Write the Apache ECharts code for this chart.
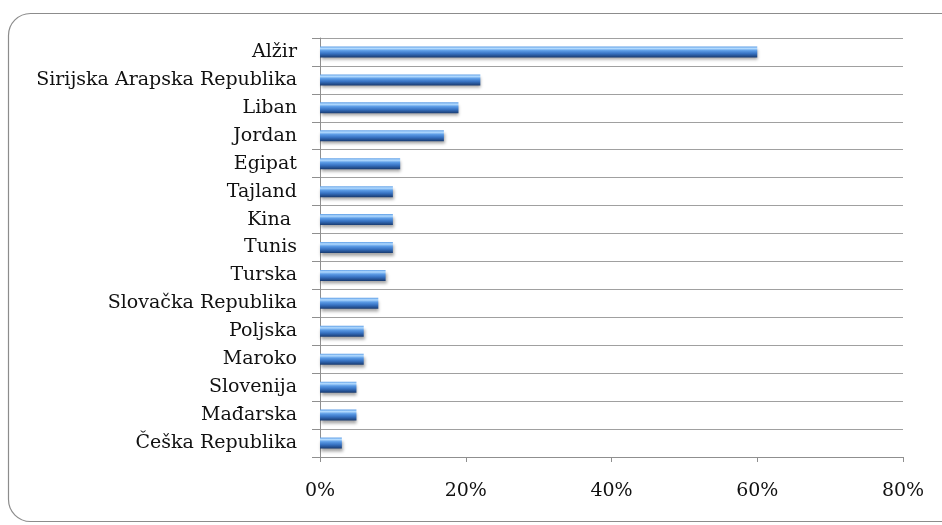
<!DOCTYPE html>
<html>
<head>
<meta charset="utf-8">
<script src="https://cdn.jsdelivr.net/npm/echarts@6/dist/echarts.min.js"></script>
<style>
html,body{margin:0;padding:0;background:#fff;}
#chart{width:942px;height:525px;}
</style>
</head>
<body>
<div id="chart"></div>
<script>
var categories = ["Alžir","Sirijska Arapska Republika","Liban","Jordan","Egipat","Tajland","Kina ","Tunis","Turska","Slovačka Republika","Poljska","Maroko","Slovenija","Mađarska","Češka Republika"];
var values = [60,22,19,17,11,10,10,10,9,8,6,6,5,5,3];
var xTicks = [0,20,40,60,80];

var chart = echarts.init(document.getElementById('chart'), null, {renderer:'canvas'});
var font = '"DejaVu Serif", serif';
chart.setOption({
  animation:false,
  backgroundColor:'#ffffff',
  graphic:[{
    type:'rect', silent:true,
    shape:{x:8.5,y:13.5,width:960,height:508,r:22},
    style:{fill:'none',stroke:'#8c8c8c',lineWidth:1.2}
  }],
  grid:{left:320,right:39,top:38,bottom:68,containLabel:false},
  xAxis:{
    type:'value', min:xTicks[0], max:xTicks[xTicks.length-1], interval:20,
    axisLine:{show:true,lineStyle:{color:'#8f8f8f',width:1}},
    axisTick:{show:true,length:5,lineStyle:{color:'#8f8f8f'}},
    splitLine:{show:false},
    axisLabel:{formatter:'{value}%',fontFamily:font,fontSize:19,color:'#111',margin:25}
  },
  yAxis:{
    type:'category', data:categories, inverse:true,
    axisLine:{show:true,lineStyle:{color:'#8f8f8f',width:1}},
    axisTick:{show:true,length:8,lineStyle:{color:'#8f8f8f'}},
    splitLine:{show:true,lineStyle:{color:'#a0a0a0',width:1.2}},
    axisLabel:{fontFamily:font,fontSize:19,color:'#111',margin:23}
  },
  series:[{
    type:'bar', data:values, barWidth:11,
    itemStyle:{
      color:new echarts.graphic.LinearGradient(0,0,0,1,[
        {offset:0,color:'#5e9ee6'},
        {offset:0.18,color:'#b3dbff'},
        {offset:0.38,color:'#5c9ce6'},
        {offset:0.65,color:'#3772c2'},
        {offset:1,color:'#183a70'}
      ]),
      shadowColor:'rgba(0,0,0,0.35)', shadowBlur:3, shadowOffsetY:3, shadowOffsetX:1
    }
  }]
});
</script>
</body>
</html>
